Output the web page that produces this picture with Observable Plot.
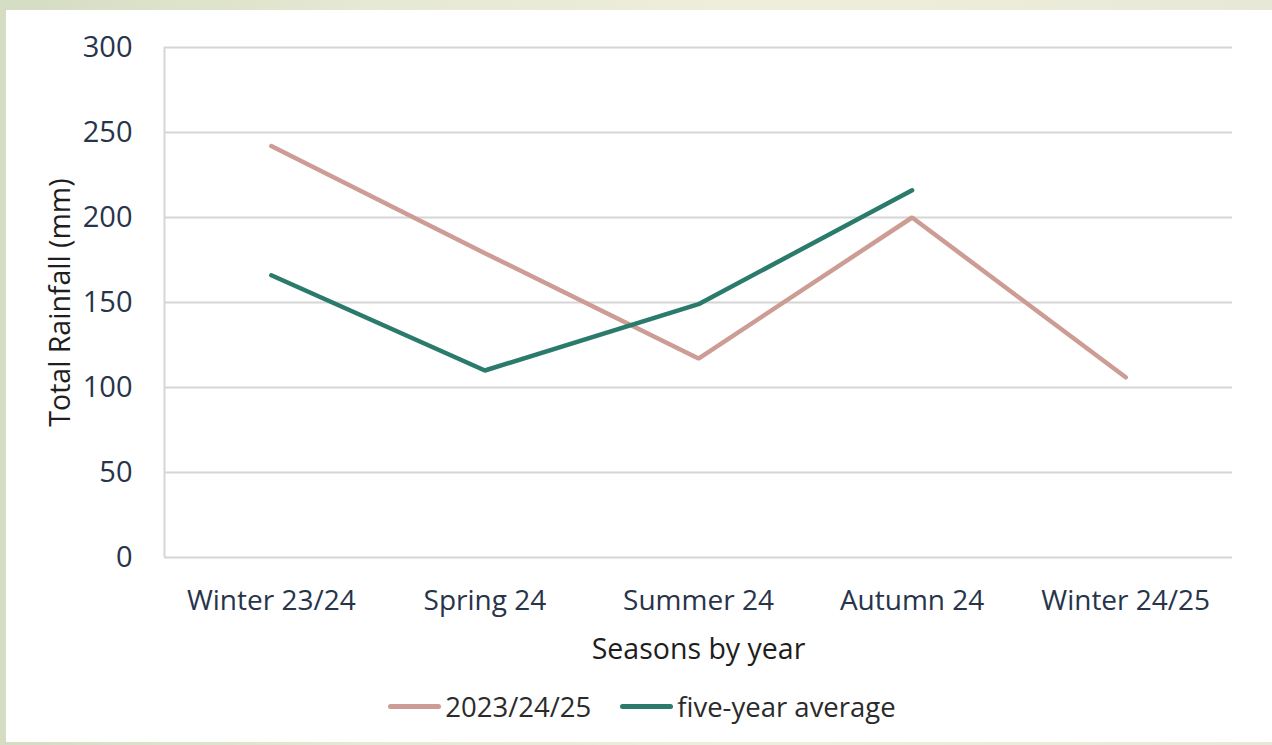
<!DOCTYPE html>
<html>
<head>
<meta charset="utf-8">
<script src="https://cdn.jsdelivr.net/npm/d3@7"></script>
<script src="https://cdn.jsdelivr.net/npm/@observablehq/plot@0.6"></script>
<style>
  html, body { margin: 0; padding: 0; }
  body {
    width: 1272px; height: 745px; overflow: hidden; position: relative;
    background: linear-gradient(90deg, #d5dcc4 0%, #e6e9d3 30%, #efeedb 60%, #e7e9d6 100%);
    font-family: "Open Sans", sans-serif;
  }
  #card {
    position: absolute; left: 6px; top: 10px; width: 1266px; height: 732px;
    background: #ffffff;
  }
  #legend {
    display: flex; justify-content: center; align-items: center;
    gap: 29px; margin-top: 23px; font-size: 27.5px; color: #2b2b2b;
    padding-left: 6px; line-height: 1;
  }
  .item { display: flex; align-items: center; gap: 4px; }
  .sw { width: 53px; height: 5px; border-radius: 3px; display: inline-block; }
</style>
</head>
<body>
<div id="card">
  <div id="chart"></div>
  <div id="legend"></div>
</div>
<script>
const seasons = ["Winter 23/24", "Spring 24", "Summer 24", "Autumn 24", "Winter 24/25"];
const current = [242, 179, 117, 200, 106];
const fiveYearAvg = [166, 110, 149, 216, null];
const seriesNames = ["2023/24/25", "five-year average"];
const seriesColors = ["#cd9c95", "#2b7b6c"];
const yTicks = [0, 50, 100, 150, 200, 250, 300];

const rows = [];
seasons.forEach((s, i) => {
  rows.push({i, season: s, series: seriesNames[0], value: current[i]});
  if (fiveYearAvg[i] != null) rows.push({i, season: s, series: seriesNames[1], value: fiveYearAvg[i]});
});

const chart = Plot.plot({
  width: 1266,
  height: 660,
  marginLeft: 158,
  marginRight: 40,
  marginTop: 37,
  marginBottom: 113,
  style: {fontFamily: "Open Sans, sans-serif", background: "transparent", overflow: "visible"},
  x: {domain: [-0.5, seasons.length - 0.5]},
  y: {domain: [0, 300]},
  color: {domain: seriesNames, range: seriesColors},
  marks: [
    Plot.gridY(yTicks, {stroke: "#d6d6d6", strokeOpacity: 1, strokeWidth: 2}),
    Plot.ruleX([-0.5], {stroke: "#d6d6d6", strokeWidth: 2}),
    Plot.axisY({ticks: yTicks, tickSize: 0, tickPadding: 32, fontSize: 29, color: "#27344a", label: null}),
    Plot.axisX({ticks: d3.range(seasons.length), tickFormat: i => seasons[i], tickSize: 0, tickPadding: 33, fontSize: 28, color: "#27344a", label: null}),
    Plot.text(["Seasons by year"], {frameAnchor: "bottom", dy: 101, fontSize: 28.5, fill: "#1e1e1e"}),
    Plot.text(["Total Rainfall (mm)"], {frameAnchor: "left", textAnchor: "middle", rotate: -90, dx: -104, fontSize: 28.5, fill: "#1e1e1e"}),
    Plot.line(rows.filter(d => d.series === seriesNames[0]), {x: "i", y: "value", stroke: "series", strokeWidth: 4.5, strokeLinecap: "round", strokeLinejoin: "miter"}),
    Plot.line(rows.filter(d => d.series === seriesNames[1]), {x: "i", y: "value", stroke: "series", strokeWidth: 4.5, strokeLinecap: "round", strokeLinejoin: "miter"})
  ]
});
document.getElementById("chart").appendChild(chart);

const legend = document.getElementById("legend");
seriesNames.forEach((n, k) => {
  const it = document.createElement("div");
  it.className = "item";
  const sw = document.createElement("span");
  sw.className = "sw";
  sw.style.background = seriesColors[k];
  const t = document.createElement("span");
  t.textContent = n;
  it.appendChild(sw); it.appendChild(t);
  legend.appendChild(it);
});
</script>
</body>
</html>
